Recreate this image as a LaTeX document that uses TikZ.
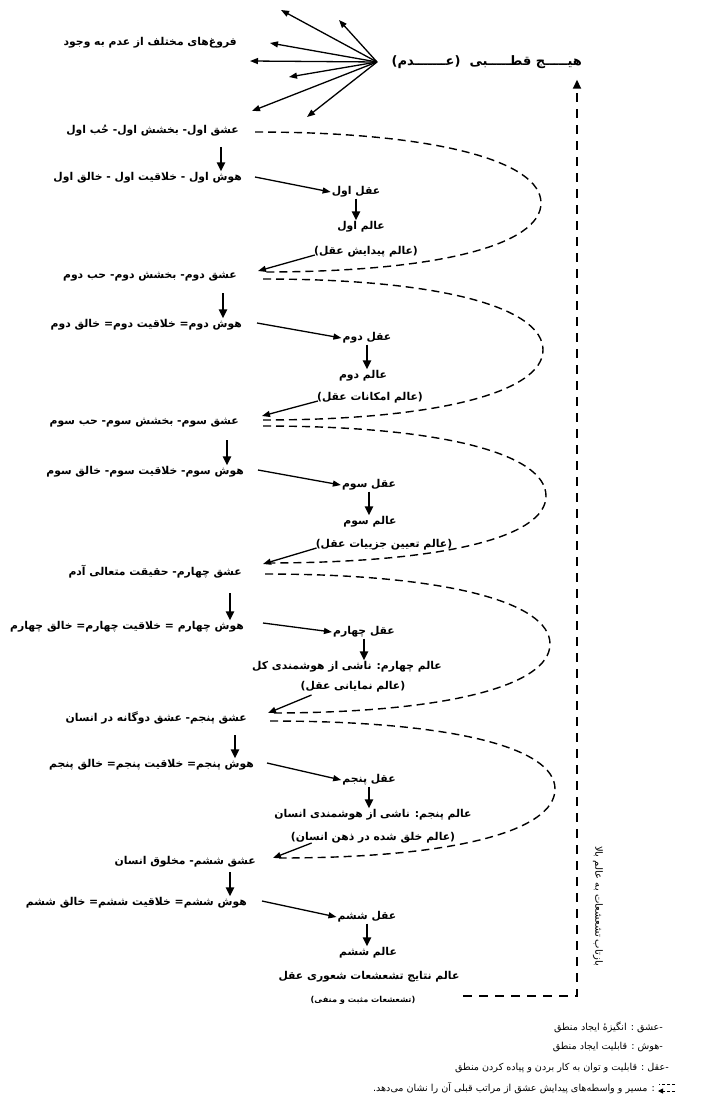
\documentclass[tikz,border=0pt]{standalone}
\usepackage{fontspec}
\usetikzlibrary{arrows.meta,calc}
\TeXXeTstate=1
\newfontfamily\fa[Script=Arabic]{DejaVu Sans}
\newcommand\fsep{\kern0pt}
\tikzset{
  txt/.style={font=\fa\bfseries\fontsize{10.8}{12}\selectfont, inner sep=1pt},
  small/.style={font=\fa\bfseries\fontsize{8.2}{9}\selectfont, inner sep=1pt},
  legend/.style={font=\fa\fontsize{9.6}{11}\selectfont, inner sep=1pt, anchor=east},
  ttl/.style={font=\fa\bfseries\fontsize{13}{15}\selectfont, inner sep=1pt},
  vlabel/.style={font=\fa\fontsize{10}{11}\selectfont, inner sep=1pt, rotate=-90},
  arr/.style={-{Triangle[length=8pt,width=6pt]}, line width=1.3pt},
  darr/.style={-{Triangle[length=9pt,width=8pt]}, line width=2.2pt},
  dloop/.style={dash pattern=on 8pt off 5pt, line width=1.4pt},
  vdash/.style={dash pattern=on 9pt off 7pt, line width=1.8pt, -{Triangle[length=9pt,width=8pt]}},
}
\begin{document}
\begin{tikzpicture}[x=1pt,y=-1pt]
\fill[white] (0,0) rectangle (722,1107);
\useasboundingbox (0,0) rectangle (722,1107);

% title and fan
\node[ttl, anchor=east] (T) at (583,62) {)\beginR عـــــــدم\endR(\ \ \beginR هیـــــج قطـــــبی\endR};
\node[txt, anchor=east] (F) at (238,43) {\beginR فروغ‌های مختلف از عدم به وجود\endR};
\coordinate (hub) at (377,62);
\coordinate (f1) at (281,10);
\coordinate (f2) at (339,20);
\coordinate (f3) at (270,43);
\coordinate (f4) at (250,61);
\coordinate (f5) at (289,77);
\coordinate (f6) at (252,111);
\coordinate (f7) at (307,117);
\foreach \f in {f1,f2,f3,f4,f5,f6,f7} \draw[arr] (hub) -- (\f);

% level 1
\node[txt, anchor=east] (E1) at (240,131) {\beginR عشق اول\fsep- بخشش اول\fsep- حُب اول\endR};
\node[txt, anchor=east] (H1) at (243,178) {\beginR هوش اول \fsep- خلاقیت اول \fsep- خالق اول\endR};
\node[txt] (A1) at (356,192) {\beginR عقل اول\endR};
\node[txt] (W1) at (361,227) {\beginR عالم اول\endR};
\node[txt] (P1) at (366,252) {)\beginR عالم پیدایش عقل\endR(};
% level 2
\node[txt, anchor=east] (E2) at (238,277) {\beginR عشق دوم\fsep- بخشش دوم\fsep- حب دوم\endR};
\node[txt, anchor=east] (H2) at (243,325) {\beginR هوش دوم\fsep= خلاقیت دوم\fsep= خالق دوم\endR};
\node[txt] (A2) at (367,338) {\beginR عقل دوم\endR};
\node[txt] (W2) at (363,376) {\beginR عالم دوم\endR};
\node[txt] (P2) at (370,398) {)\beginR عالم امکانات عقل\endR(};
% level 3
\node[txt, anchor=east] (E3) at (240,423) {\beginR عشق سوم\fsep- بخشش سوم\fsep- حب سوم\endR};
\node[txt, anchor=east] (H3) at (245,472) {\beginR هوش سوم\fsep- خلاقیت سوم\fsep- خالق سوم\endR};
\node[txt] (A3) at (369,485) {\beginR عقل سوم\endR};
\node[txt] (W3) at (370,522) {\beginR عالم سوم\endR};
\node[txt] (P3) at (384,545) {)\beginR عالم تعیین جزییات عقل\endR(};
% level 4
\node[txt, anchor=east] (E4) at (243,572) {\beginR عشق چهارم\fsep- حقیقت متعالی آدم\endR};
\node[txt, anchor=east] (H4) at (245,627) {\beginR هوش چهارم \fsep= خلاقیت چهارم\fsep= خالق چهارم\endR};
\node[txt] (A4) at (364,632) {\beginR عقل چهارم\endR};
\node[txt] (W4) at (347,667) {\beginR عالم چهارم\fsep: ناشی از هوشمندی کل\endR};
\node[txt] (P4) at (353,687) {)\beginR عالم نمایانی عقل\endR(};
% level 5
\node[txt, anchor=east] (E5) at (248,718) {\beginR عشق پنجم\fsep- عشق دوگانه در انسان\endR};
\node[txt, anchor=east] (H5) at (255,765) {\beginR هوش پنجم\fsep= خلاقیت پنجم\fsep= خالق پنجم\endR};
\node[txt] (A5) at (369,780) {\beginR عقل پنجم\endR};
\node[txt] (W5) at (373,815) {\beginR عالم پنجم\fsep: ناشی از هوشمندی انسان\endR};
\node[txt] (P5) at (373,838) {)\beginR عالم خلق شده در ذهن انسان\endR(};
% level 6
\node[txt, anchor=east] (E6) at (257,862) {\beginR عشق ششم\fsep- مخلوق انسان\endR};
\node[txt, anchor=east] (H6) at (248,903) {\beginR هوش ششم\fsep= خلاقیت ششم\fsep= خالق ششم\endR};
\node[txt] (A6) at (367,917) {\beginR عقل ششم\endR};
\node[txt] (W6) at (368,953) {\beginR عالم ششم\endR};
\node[txt] (X6) at (369,977) {\beginR عالم نتایج تشعشعات شعوری عقل\endR};
\node[small] (Y6) at (363,1000) {)\beginR تشعشعات مثبت و منفی\endR(};

% E -> H down arrows
\coordinate (d1) at ($(E1.east)+(-19,16)$);
\coordinate (d2) at ($(E2.east)+(-15,16)$);
\coordinate (d3) at ($(E3.east)+(-13,17)$);
\coordinate (d4) at ($(E4.east)+(-13,21)$);
\coordinate (d5) at ($(E5.east)+(-13,17)$);
\coordinate (d6) at ($(E6.east)+(-27,10)$);
\draw[darr] (d1) -- (d1 |- H1.north);
\draw[darr] (d2) -- (d2 |- H2.north);
\draw[darr] (d3) -- (d3 |- H3.north);
\draw[darr] (d4) -- (d4 |- H4.north);
\draw[darr] (d5) -- (d5 |- H5.north);
\draw[darr] (d6) -- (d6 |- H6.north);

% H -> A arrows
\draw[arr] ($(H1.east)+(12,-1)$) -- (A1.west);
\draw[arr] ($(H2.east)+(14,-2)$) -- (A2.west);
\draw[arr] ($(H3.east)+(13,-2)$) -- (A3.west);
\draw[arr] ($(H4.east)+(18,-4)$) -- (A4.west);
\draw[arr] ($(H5.east)+(12,-2)$) -- (A5.west);
\draw[arr] ($(H6.east)+(14,-2)$) -- (A6.west);

% A -> W arrows
\draw[darr] (A1.south) -- (A1.south |- W1.north);
\draw[darr] (A2.south) -- (A2.south |- W2.north);
\draw[darr] (A3.south) -- (A3.south |- W3.north);
\draw[darr] (A4.south) -- (A4.south |- W4.north);
\draw[darr] (A5.south) -- (A5.south |- W5.north);
\draw[darr] (A6.south) -- (A6.south |- W6.north);

% P -> next E arrows
\draw[arr] ($(P1.west)+(2,3)$) -- ($(E2.east)+(20,-6)$);
\draw[arr] ($(P2.west)+(2,3)$) -- ($(E3.east)+(22,-7)$);
\draw[arr] ($(P3.west)+(2,3)$) -- ($(E4.east)+(20,-8)$);
\draw[arr] ($(P4.west)+(12,8)$) -- ($(E5.east)+(20,-5)$);
\draw[arr] ($(P5.west)+(22,5)$) -- ($(E6.east)+(16,-4)$);

% dashed loops
\coordinate (pk1) at (541,203);
\coordinate (pk2) at (543,350);
\coordinate (pk3) at (546,496);
\coordinate (pk4) at (550,644);
\coordinate (pk5) at (555,789);
\coordinate (ls1) at ($(E1.east)+(15,1)$);
\coordinate (ls2) at ($(E2.east)+(25,2)$);
\coordinate (ls3) at ($(E3.east)+(23,3)$);
\coordinate (ls4) at ($(E4.east)+(22,2)$);
\coordinate (ls5) at ($(E5.east)+(22,3)$);
\coordinate (le1) at ($(E2.east)+(25,-5)$);
\coordinate (le2) at ($(E3.east)+(23,-3)$);
\coordinate (le3) at ($(E4.east)+(22,-9)$);
\coordinate (le4) at ($(E5.east)+(22,-5)$);
\coordinate (le5) at ($(E6.east)+(22,-4)$);
\foreach \k in {1,...,5}
  \draw[dloop] (ls\k) .. controls ($(ls\k)+(180,0)$) and ($(pk\k)+(0,-42)$) .. (pk\k)
     .. controls ($(pk\k)+(0,42)$) and ($(le\k)+(175,0)$) .. (le\k);

% return arrow to title
\draw[vdash] ($(Y6.east)+(47,-4)$) -| ($(T.south east)+(-6,10)$);
\node[vlabel] (R) at (598,906) {\beginR بازتاب تشعشعات به عالم بالا\endR};

% legend
\node[legend] (L1) at (664,1027) {\beginR -\fsep عشق : انگیزهٔ ایجاد منطق\endR};
\node[legend] (L2) at (664,1047) {\beginR -\fsep هوش : قابلیت ایجاد منطق\endR};
\node[legend] (L3) at (670,1068) {\beginR -\fsep عقل : قابلیت و توان به کار بردن و پیاده کردن منطق\endR};
\node[legend] (L4) at (656,1088) {\beginR : مسیر و واسطه‌های پیدایش عشق از مراتب قبلی آن را نشان می‌دهد\fsep.\endR};
\draw[line width=0.9pt, dash pattern=on 3pt off 2pt] (675,1084) -- (659,1084);
\draw[line width=0.9pt, dash pattern=on 3pt off 2pt, -{Triangle[length=5pt,width=5pt]}] (675,1091) -- (658,1091);
\end{tikzpicture}
\end{document}
